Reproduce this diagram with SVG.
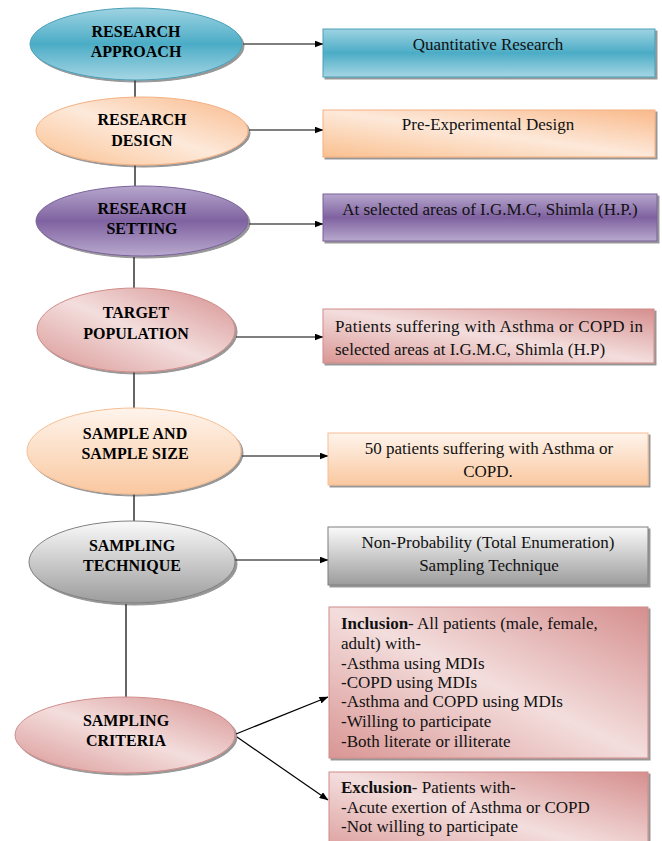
<svg xmlns="http://www.w3.org/2000/svg" width="662" height="841" viewBox="0 0 662 841">
<defs>
<linearGradient id="gTeal" x1="0" y1="0" x2="0" y2="1"><stop offset="0" stop-color="#9ED3E2"/><stop offset="0.5" stop-color="#4BACC6"/><stop offset="1" stop-color="#A6D6E4"/></linearGradient>
<linearGradient id="gOrangeD" x1="1" y1="0" x2="0" y2="1"><stop offset="0" stop-color="#F9B98A"/><stop offset="0.5" stop-color="#FDE9DA"/><stop offset="1" stop-color="#FAC08F"/></linearGradient>
<linearGradient id="gPurple" x1="0" y1="0" x2="0" y2="1"><stop offset="0" stop-color="#B6A6CC"/><stop offset="0.5" stop-color="#7F62A0"/><stop offset="1" stop-color="#B9A9CE"/></linearGradient>
<linearGradient id="gPink" x1="1" y1="0" x2="0" y2="1"><stop offset="0" stop-color="#D58F8E"/><stop offset="0.5" stop-color="#F3DEDD"/><stop offset="1" stop-color="#D99694"/></linearGradient>
<linearGradient id="gOrangeV" x1="0" y1="0" x2="0" y2="1"><stop offset="0" stop-color="#FEF4EC"/><stop offset="1" stop-color="#FAC8A0"/></linearGradient>
<linearGradient id="gGray" x1="0" y1="0" x2="0" y2="1"><stop offset="0" stop-color="#FAFAFA"/><stop offset="1" stop-color="#9C9C9C"/></linearGradient>
<filter id="sh" x="-10%" y="-10%" width="120%" height="130%"><feDropShadow dx="2" dy="2" stdDeviation="0.6" flood-color="#404040" flood-opacity="0.55"/></filter>
<marker id="ah" markerWidth="9" markerHeight="7" refX="8.5" refY="3.5" orient="auto" markerUnits="userSpaceOnUse"><path d="M0,0 L9,3.5 L0,7 z" fill="#000"/></marker>
</defs>
<style>
.et{font-family:"Liberation Serif","Times New Roman",serif;font-weight:bold;font-size:16px;fill:#000;text-anchor:middle}
.bt{font-family:"Liberation Serif","Times New Roman",serif;font-size:17px;fill:#111}
.c{text-anchor:middle}
.b{font-weight:bold}
.ln{stroke:#000;stroke-width:1.2;fill:none}
.teal{fill:url(#gTeal);stroke:#4A9FB7;stroke-width:1}
.od{fill:url(#gOrangeD);stroke:#F3B083;stroke-width:1}
.pur{fill:url(#gPurple);stroke:#7A6199;stroke-width:1}
.pink{fill:url(#gPink);stroke:#D08B89;stroke-width:1}
.ov{fill:url(#gOrangeV);stroke:#F5BE93;stroke-width:1}
.gray{fill:url(#gGray);stroke:#7F7F7F;stroke-width:1}
</style>
<rect width="662" height="841" fill="#fff"/>
<g id="connectors">
<line class="ln" x1="135" y1="77" x2="135" y2="98"/>
<line class="ln" x1="135" y1="165" x2="135" y2="186"/>
<line class="ln" x1="134" y1="257" x2="134" y2="288"/>
<line class="ln" x1="134" y1="372" x2="134" y2="409"/>
<line class="ln" x1="134" y1="494" x2="134" y2="521"/>
<line class="ln" x1="126" y1="604" x2="126" y2="698"/>
<line class="ln" x1="243" y1="44" x2="323" y2="44" marker-end="url(#ah)"/>
<line class="ln" x1="249" y1="130" x2="323" y2="130" marker-end="url(#ah)"/>
<line class="ln" x1="249" y1="224" x2="323" y2="224" marker-end="url(#ah)"/>
<line class="ln" x1="236" y1="337" x2="323" y2="337" marker-end="url(#ah)"/>
<line class="ln" x1="242" y1="456" x2="328" y2="456" marker-end="url(#ah)"/>
<line class="ln" x1="235" y1="560" x2="328" y2="560" marker-end="url(#ah)"/>
<line class="ln" x1="236" y1="734" x2="328" y2="697" marker-end="url(#ah)"/>
<line class="ln" x1="237" y1="737" x2="328" y2="800" marker-end="url(#ah)"/>
</g>
<g id="research-approach"><ellipse class="teal" filter="url(#sh)" cx="136" cy="44" rx="106" ry="36"/><text class="et" x="136" y="37">RESEARCH</text><text class="et" x="136" y="57">APPROACH</text></g>
<g id="research-design"><ellipse class="od" filter="url(#sh)" cx="142" cy="131" rx="106" ry="34"/><text class="et" x="142" y="125">RESEARCH</text><text class="et" x="142" y="146">DESIGN</text></g>
<g id="research-setting"><ellipse class="pur" filter="url(#sh)" cx="142" cy="221" rx="106" ry="35"/><text class="et" x="142" y="214">RESEARCH</text><text class="et" x="142" y="234">SETTING</text></g>
<g id="target-population"><ellipse class="pink" filter="url(#sh)" cx="136" cy="330" rx="99" ry="42"/><text class="et" x="136" y="318">TARGET</text><text class="et" x="136" y="339">POPULATION</text></g>
<g id="sample-size"><ellipse class="ov" filter="url(#sh)" cx="134" cy="451" rx="107" ry="43"/><text class="et" x="135" y="439">SAMPLE AND</text><text class="et" x="135" y="459">SAMPLE SIZE</text></g>
<g id="sampling-technique"><ellipse class="gray" filter="url(#sh)" cx="132" cy="562" rx="103" ry="41"/><text class="et" x="132" y="551">SAMPLING</text><text class="et" x="132" y="571">TECHNIQUE</text></g>
<g id="sampling-criteria"><ellipse class="pink" filter="url(#sh)" cx="125" cy="735" rx="110" ry="38"/><text class="et" x="126" y="726">SAMPLING</text><text class="et" x="126" y="746">CRITERIA</text></g>
<g id="quantitative"><rect class="teal" filter="url(#sh)" x="323" y="29" width="332" height="48"/><text class="bt c" x="488" y="50">Quantitative Research</text></g>
<g id="pre-experimental"><rect class="od" filter="url(#sh)" x="323" y="110" width="332" height="47"/><text class="bt c" x="488" y="130">Pre-Experimental Design</text></g>
<g id="selected-areas"><rect class="pur" filter="url(#sh)" x="323" y="194" width="334" height="47"/><text class="bt c" x="490" y="215">At selected areas of I.G.M.C, Shimla (H.P.)</text></g>
<g id="patients"><rect class="pink" filter="url(#sh)" x="323" y="309" width="331" height="54"/><text class="bt" x="335" y="332" textLength="308" lengthAdjust="spacing">Patients suffering with Asthma or COPD in</text><text class="bt" x="335" y="355">selected areas at I.G.M.C, Shimla (H.P)</text></g>
<g id="fifty-patients"><rect class="ov" filter="url(#sh)" x="328" y="433" width="320" height="52"/><text class="bt c" x="489" y="454">50 patients suffering with Asthma or</text><text class="bt c" x="488" y="477">COPD.</text></g>
<g id="non-probability"><rect class="gray" filter="url(#sh)" x="328" y="527" width="320" height="58"/><text class="bt c" x="488" y="548">Non-Probability (Total Enumeration)</text><text class="bt c" x="489" y="571">Sampling Technique</text></g>
<g id="inclusion"><rect class="pink" filter="url(#sh)" x="329" y="607" width="319" height="151"/>
<text class="bt" x="341" y="629"><tspan class="b">Inclusion</tspan>- All patients (male, female,</text>
<text class="bt" x="341" y="649">adult) with-</text>
<text class="bt" x="341" y="669">-Asthma using MDIs</text>
<text class="bt" x="341" y="688">-COPD using MDIs</text>
<text class="bt" x="341" y="707">-Asthma and COPD using MDIs</text>
<text class="bt" x="341" y="727">-Willing to participate</text>
<text class="bt" x="341" y="747">-Both literate or illiterate</text></g>
<g id="exclusion"><rect class="pink" filter="url(#sh)" x="329" y="772" width="319" height="90"/>
<text class="bt" x="341" y="793"><tspan class="b">Exclusion</tspan>- Patients with-</text>
<text class="bt" x="341" y="813">-Acute exertion of Asthma or COPD</text>
<text class="bt" x="341" y="832">-Not willing to participate</text></g>
</svg>
